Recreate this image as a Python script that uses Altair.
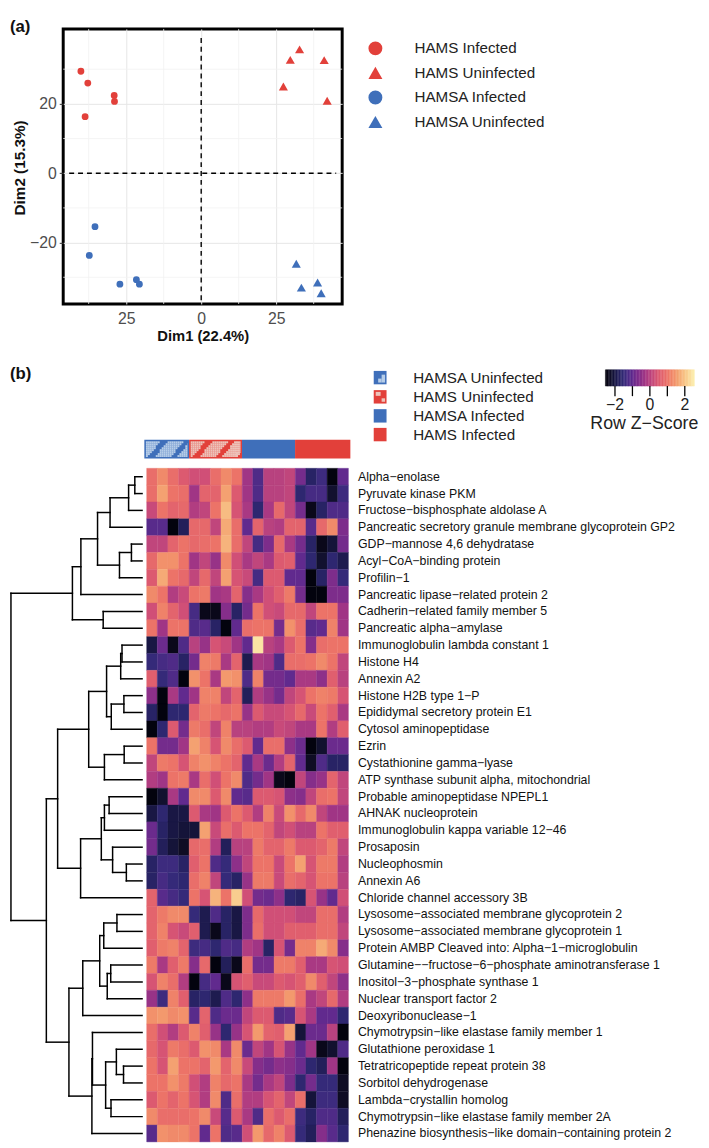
import altair as alt
import pandas as pd
import numpy as np

FONT = "Liberation Sans"
RED, BLUE = "#e2403a", "#3f6fba"
LRED, LBLUE = "#edc3ba", "#b6cde8"

# ---------- panel (a) ----------
groups = ["HAMS Infected", "HAMS Uninfected", "HAMSA Infected", "HAMSA Uninfected"]
hams_inf_x = [-40.1, -37.8, -29.0, -28.9, -38.7]
hams_inf_y = [29.4, 26.0, 22.4, 20.7, 16.3]
hams_uni_x = [32.8, 29.7, 41.0, 27.4, 42.0]
hams_uni_y = [35.7, 32.7, 32.6, 25.0, 20.9]
hamsa_inf_x = [-35.4, -37.3, -21.6, -20.6, -27.1]
hamsa_inf_y = [-15.4, -23.7, -30.7, -32.0, -32.0]
hamsa_uni_x = [31.7, 38.8, 33.4, 40.0]
hamsa_uni_y = [-26.1, -31.5, -33.0, -34.6]
x_ticks = [-25, 0, 25]
y_ticks = [-20, 0, 20]
x_minor = [-37.5, -12.5, 12.5, 37.5]
y_minor = [-30, -10, 10, 30]

pts = pd.DataFrame(
    [(a, b, groups[0]) for a, b in zip(hams_inf_x, hams_inf_y)]
    + [(a, b, groups[1]) for a, b in zip(hams_uni_x, hams_uni_y)]
    + [(a, b, groups[2]) for a, b in zip(hamsa_inf_x, hamsa_inf_y)]
    + [(a, b, groups[3]) for a, b in zip(hamsa_uni_x, hamsa_uni_y)],
    columns=["x", "y", "group"],
)
marker_area = {groups[0]: 48, groups[1]: 85, groups[2]: 48, groups[3]: 85}
pts["area"] = pts["group"].map(marker_area)

sx = alt.Scale(domain=[-46, 47], nice=False, zero=False)
sy = alt.Scale(domain=[-37.7, 41.6], nice=False, zero=False)

axis_x = alt.Axis(values=x_ticks, labelExpr="format(abs(datum.value),'d')", grid=True, gridColor="#e6e6e6",
                  gridWidth=1, domain=False, ticks=False, labelFont=FONT, labelFontSize=16, labelColor="#4d4d4d",
                  labelPadding=7, title="Dim1 (22.4%)", titleFont=FONT, titleFontSize=15, titleFontWeight="bold",
                  titleColor="#111", titlePadding=2)
axis_y = alt.Axis(values=y_ticks, grid=True, gridColor="#e6e6e6", gridWidth=1, domain=False, tickColor="#333",
                  tickSize=4, labelFont=FONT, labelFontSize=16, labelColor="#4d4d4d", labelPadding=3,
                  title=None)

base_grid = alt.Chart(pd.DataFrame({"x": x_minor})).mark_rule(color="#f1f1f1", strokeWidth=0.8).encode(
    x=alt.X("x:Q", scale=sx, axis=axis_x), )
base_grid2 = alt.Chart(pd.DataFrame({"y": y_minor})).mark_rule(color="#f1f1f1", strokeWidth=0.8).encode(
    y=alt.Y("y:Q", scale=sy, axis=axis_y), )

hline = alt.Chart(pd.DataFrame({"y": [0], "a": [-44], "b": [45]})).mark_rule(
    color="black", strokeWidth=1.4, strokeDash=[5, 4]).encode(
    y=alt.Y("y:Q", scale=sy), x=alt.X("a:Q", scale=sx), x2="b:Q")
vline = alt.Chart(pd.DataFrame({"x": [0], "a": [39], "b": [-37]})).mark_rule(
    color="black", strokeWidth=1.4, strokeDash=[5, 4]).encode(
    x=alt.X("x:Q", scale=sx), y=alt.Y("a:Q", scale=sy), y2="b:Q")

leg = alt.Legend(orient="none", legendX=309, legendY=12, symbolSize=200, labelFont=FONT, labelFontSize=15.4,
                 labelColor="#222", labelOffset=32, rowPadding=7.9, padding=0, symbolStrokeWidth=0)
points = alt.Chart(pts).mark_point(filled=True, opacity=1, strokeWidth=0).encode(
    x=alt.X("x:Q", scale=sx),
    y=alt.Y("y:Q", scale=sy),
    color=alt.Color("group:N", title=None, legend=leg,
                    scale=alt.Scale(domain=groups, range=[RED, RED, BLUE, BLUE])),
    shape=alt.Shape("group:N", title=None, legend=leg,
                    scale=alt.Scale(domain=groups, range=["circle", "triangle-up", "circle", "triangle-up"])),
    size=alt.Size("area:Q", legend=None, scale=None),
)
tag_a = alt.Chart(pd.DataFrame({"t": ["(a)"]})).mark_text(
    font=FONT, fontSize=17, fontWeight="bold", align="left", baseline="middle", color="#111").encode(
    x=alt.value(-54), y=alt.value(-2), text="t:N")
dim2 = alt.Chart(pd.DataFrame({"t": ["Dim2 (15.3%)"]})).mark_text(
    font=FONT, fontSize=15.5, fontWeight="bold", align="center", baseline="middle", color="#111", angle=270).encode(
    x=alt.value(-44), y=alt.value(141), text="t:N")

scatter = alt.layer(base_grid, base_grid2, hline, vline, points, tag_a, dim2).properties(
    width=283, height=279, view=alt.ViewBackground(stroke="black", strokeWidth=3))

# ---------- panel (b) ----------
X0 = 62    # page x of the lower view, aligned with the scatter view
Y0 = 352   # page y of the top of the lower view
H = 1146 - Y0
W = 709 - X0

proteins = [
    "Alpha−enolase", "Pyruvate kinase PKM", "Fructose−bisphosphate aldolase A",
    "Pancreatic secretory granule membrane glycoprotein GP2", "GDP−mannose 4,6 dehydratase",
    "Acyl−CoA−binding protein", "Profilin−1", "Pancreatic lipase−related protein 2",
    "Cadherin−related family member 5", "Pancreatic alpha−amylase", "Immunoglobulin lambda constant 1",
    "Histone H4", "Annexin A2", "Histone H2B type 1−P", "Epididymal secretory protein E1",
    "Cytosol aminopeptidase", "Ezrin", "Cystathionine gamma−lyase", "ATP synthase subunit alpha, mitochondrial",
    "Probable aminopeptidase NPEPL1", "AHNAK nucleoprotein", "Immunoglobulin kappa variable 12−46", "Prosaposin",
    "Nucleophosmin", "Annexin A6", "Chloride channel accessory 3B", "Lysosome−associated membrane glycoprotein 2",
    "Lysosome−associated membrane glycoprotein 1", "Protein AMBP Cleaved into: Alpha−1−microglobulin",
    "Glutamine−−fructose−6−phosphate aminotransferase 1", "Inositol−3−phosphate synthase 1",
    "Nuclear transport factor 2", "Deoxyribonuclease−1", "Chymotrypsin−like elastase family member 1",
    "Glutathione peroxidase 1", "Tetratricopeptide repeat protein 38", "Sorbitol dehydrogenase",
    "Lambda−crystallin homolog", "Chymotrypsin−like elastase family member 2A",
    "Phenazine biosynthesis−like domain−containing protein 2",
]

z_rows = [
    [.9,1.3,.9,.5,.3,.3,.9,1.3,1,-.3,-1.2,0,0,.1,-.8,-1.7,-1.4,-2.5,-1],
    [.9,1.6,1,.9,-.3,.7,.7,1.6,.5,-.3,-1.2,0,0,.1,-1.6,-1.3,-1.3,-2.2,-1.4],
    [.2,1,.7,.8,-.1,.1,1,1.9,.4,-.2,-1.6,-.2,.8,.1,-.8,-2.4,-1.7,-1.2,-1.2],
    [-1.1,-1.1,-2.5,-1.8,.8,.8,.1,1.7,.9,-1,.7,0,-.1,.7,.7,-1.1,.8,1.3,-.7],
    [.1,.1,.7,1,.8,.9,1,1.8,.9,.1,-1.3,-.7,.8,-.2,-.8,-1.7,-2.4,-2.1,-.8],
    [.8,1.4,1.4,1,-.3,.1,-.4,1.3,.3,-.2,.1,-.2,.5,.6,-1,-1.6,-2.2,-1.6,-1.9],
    [.5,1.7,1,.8,.1,.8,.1,1.6,.4,.2,-1.3,.5,.5,-1,-1,-2.5,-1.7,-.7,-1.5],
    [1.3,1,-.1,.2,1,1.1,-.3,-.2,.7,-.6,-.2,.3,.6,1.1,-.8,-2.5,-2.5,-.7,-.7],
    [.3,1.2,.7,.3,-1.3,-2.4,-2.4,-.6,-1.7,-.8,1,.3,.2,.8,.8,.1,1,1,-.3],
    [1,-.3,1,1,-1.2,-1.1,-1.7,-2.5,-1,.9,1,1,-.8,1.4,.9,-1.1,-1,1.2,-.3],
    [-2,-.9,-2.4,-1.2,0,-.4,.4,.2,-.3,-1,2.4,0,-.2,.5,1,-.6,.9,1,1],
    [-1.5,-1.3,-1.2,-1.7,-.8,1.2,1.1,-.2,.7,-1.9,-.2,-.3,-1.2,.9,.9,1,1.3,1,.1],
    [.6,-1.5,-1.2,-2.5,1.4,1,-.2,1.5,1.4,-1.2,1.2,-.8,-.8,-1,-.2,-.2,-.5,.6,0],
    [-.5,-2.5,-.2,-1,-.3,1.2,1.2,.1,.7,-1.8,-.1,-.4,-.8,.1,.4,1,1.2,1.1,.4],
    [-1.7,-2.5,-1.6,-1.6,.7,1.1,1,.8,1,-.4,.5,.2,.2,.4,.8,.2,1,.6,-.2],
    [-2.5,-1.6,.5,-.8,1.1,.9,.1,1.2,0,0,-.1,-.1,.2,.1,-.2,-.2,1,-.1,.6],
    [1,-.8,-.8,-.3,1.6,1.2,.4,1.3,.9,.5,-1,.9,.9,-.5,-.9,-2.5,-2.2,-.9,-.9],
    [.1,1.1,1,.4,1.2,1.4,1.2,1,.7,-1,-.2,-.9,-.1,.7,-1,-2.3,-1.2,-1.7,-1.7],
    [-.1,-.3,1,1.1,-.2,.9,.3,1,1.3,-1.2,-.8,-.3,-2.4,-2.5,.1,-.6,-.4,.7,.1],
    [-2.5,-2.2,-.2,-1,1.3,1.3,.5,1.3,-1,-1.1,.5,.5,.4,-.5,-.6,.1,.9,1,.1],
    [-2,-1.6,-2,-2,.5,-.2,-.3,.5,1,.5,-.1,1.2,.2,1.4,.8,1.3,.1,-.3,-.3],
    [-.9,-1.7,-2,-2.1,-2.1,1.6,.2,.9,.5,1,1,.7,.1,.3,0,0,1,.6,.6],
    [-.8,-1.8,-2.1,-2.3,.8,.9,-.1,-1.8,0,0,1.1,.7,.7,1.1,.5,.5,.7,1.1,.1],
    [-1.7,-1.4,-1.4,-1.7,.6,1,-1.2,-1.5,-.5,.1,1,1,.2,1,1.6,.4,1.1,1.1,-.1],
    [-1.7,-1.3,-1.5,-1.6,.9,1.2,.1,-1.5,-1.7,-.4,1.1,1.1,.2,.9,.7,.4,1,1,0],
    [.7,-1.1,-1.3,-1.5,1,.4,1.8,1,2.1,.3,-.8,-.9,-.5,-1.6,-1.7,.4,-.4,-1,.3],
    [.7,1.1,1.3,1.3,-1.5,-1.9,-1.2,-1.7,-2,-.7,.8,.3,.3,.3,.1,.1,.9,.9,-.1],
    [.7,1.2,.4,.2,.6,-1.9,-2.4,-1.7,-2,-.7,.9,.3,.3,.6,.6,.6,.9,.9,.1],
    [.6,1.1,1.2,.7,-1.4,-1.3,-1.6,-1.2,-1.3,-.1,-.3,-1.7,.4,-.8,1.2,1.2,1.7,1.3,-.6],
    [1.1,-.2,.6,1.1,-.6,.8,-2.5,-1.8,-2.4,.9,-.8,-.8,1.1,1.1,.6,-.2,-.2,.4,.3],
    [.4,1.2,.9,-.1,-2.5,-1.3,-1,-2.4,.4,.6,.2,.2,.5,.4,.6,1.3,.6,.1,-.5],
    [-.4,-1.4,1.2,.6,-1.7,-1.6,-1.9,-1.2,-1.6,-.5,1.1,1.1,1.1,1.5,.9,-.2,.1,.8,-.1],
    [1.4,1.5,1.3,1.4,-1.1,.7,-1.2,-.9,-.9,.1,.5,.5,-1.2,-1.1,.4,-.2,-1,-1,-1.6],
    [.9,.3,-.1,.5,1.2,.6,-.4,-1.6,-.4,.4,1.5,.7,.6,1.6,-2.1,-.9,-.9,0,-2.5],
    [.8,.4,1.1,.9,.5,1.4,1.3,-.2,1.3,-.9,.1,-.3,.4,-.4,-1,-.3,-2.4,-2.2,-1.2],
    [1,.4,1.6,1,1,.7,1.5,.7,1.3,.2,-.6,-.8,-.5,-.6,-.9,-1.6,-1.8,-.3,-2.5],
    [1,1,1.4,1.1,.3,-.1,1.2,.8,1,-.2,-.8,-.2,.1,-.7,-1.6,-.8,-1.5,-1.5,-2.3],
    [.5,1,.7,1,.4,-.1,1.3,-1.2,.9,-.1,-.1,.4,.7,.1,.9,-2.1,-1.4,-1.4,-2.3],
    [1.3,.9,.9,.9,1,1.3,.2,-1.1,.5,-.2,-1.2,.9,.5,.9,-1.4,-1.7,-1.2,-1.2,-1.8],
    [-1.1,1.4,1.3,1.3,1,-1,1,-1.2,-1.1,.3,1.5,.8,1.2,.5,-1.5,-1.8,-.6,-1.1,-1.6],
]
z_stops = [-2.55, -2.04, -1.53, -1.02, -0.51, 0, 0.51, 1.02, 1.53, 2.04, 2.55]
z_colors = ["#000004", "#171540", "#322a78", "#5f2a8e", "#8c3089", "#b8427f",
            "#dd5b70", "#ec7468", "#f39b6e", "#f8c88c", "#fcf0b0"]
zscale = alt.Scale(domain=z_stops, range=z_colors)

# Dendrogram: (merge distance, child, child); integers are 1-based row numbers.
tree = (139.3,
    (74, (65, (47.3, (34, (14.3, (7.7, 1, 2), 3), 4), (24, (11.3, 5, 6), 7)), 8), (41.3, 9, 10)),
    (101.7,
        (89.7,
            (56.7, (37.7, (22.7, (21.3, 11, 12), 13), (32.7, (19.3, 14, 15), 16)), (40, (19, 17, 18), 19)),
            (65.3, (43.3, (40, (35, 20, 21), 22), (31.3, 23, (16.7, 24, 25))), 26)),
        (77.7,
            (63, (45, (40.7, (26.7, 27, 28), 29), (37, (33.3, 30, 31), 32)), 33),
            (53.3, (52.7, 34, (38.7, (27.3, 35, (19.7, 36, 37)), (33, 38, 39))), 40)),
    ),
)

# scales: every lower-panel layer has its own x / y mapped into the shared view
page_x = alt.Scale(domain=[8, 709], range=[8 - X0, 709 - X0], nice=False, zero=False)
page_y = alt.Scale(domain=[Y0, Y0 + H], range=[0, H], nice=False, zero=False)
col_x = alt.Scale(domain=[0, 19], range=[146.7 - X0, 351.3 - X0], nice=False, zero=False)
row_y = alt.Scale(domain=[0, 40], range=[461.7 - Y0, 1145 - Y0], nice=False, zero=False)
dend_x = alt.Scale(domain=[0, 139.3], range=[142 - X0, 9 - X0], nice=False, zero=False)
bar_x = alt.Scale(domain=[-2.55, 2.55], range=[612 - X0, 702.3 - X0], nice=False, zero=False)

cells = pd.DataFrame([
    {"c0": c, "c1": c + 1, "r0": r, "r1": r + 1, "z": v, "protein": proteins[r]}
    for r, row in enumerate(z_rows) for c, v in enumerate(row)
])
heat = alt.Chart(cells).mark_rect(strokeWidth=0.4).encode(
    x=alt.X("c0:Q", scale=col_x, axis=None), x2="c1:Q",
    y=alt.Y("r0:Q", scale=row_y, axis=None), y2="r1:Q",
    color=alt.Color("z:Q", scale=zscale, legend=None),
    stroke=alt.Stroke("z:Q", scale=zscale, legend=None),
)

labels = alt.Chart(pd.DataFrame({"t": proteins, "r": [i + 0.5 for i in range(40)], "x": [361] * 40})).mark_text(
    font=FONT, fontSize=12.5, align="left", baseline="middle", color="#111").encode(
    x=alt.X("x:Q", scale=page_x, axis=None),
    y=alt.Y("r:Q", scale=row_y, axis=None),
    text="t:N",
)

segs = []
def walk(n):
    if isinstance(n, int):
        return 0.0, n - 0.5
    d, a, b = n
    da, ya = walk(a)
    db, yb = walk(b)
    segs.append((da, ya, d, ya))
    segs.append((db, yb, d, yb))
    segs.append((d, ya, d, yb))
    return d, (ya + yb) / 2
walk(tree)
dend = alt.Chart(pd.DataFrame(segs, columns=["x0", "y0", "x1", "y1"])).mark_rule(
    color="black", strokeWidth=1.5, strokeCap="square").encode(
    x=alt.X("x0:Q", scale=dend_x, axis=None), x2="x1:Q",
    y=alt.Y("y0:Q", scale=row_y, axis=None), y2="y1:Q",
)

# group annotation bar (page coordinates)
bar_x0 = [144.3, 189.7, 243.4, 297.2]
bar_x1 = [189.7, 243.4, 297.2, 353.3]
bar_fill = [BLUE, RED, BLUE, RED]
bar_top, bar_bot = 432.7, 451.7
rect_rows = [dict(x0=a, x1=b, y0=bar_top, y1=bar_bot, c=f) for a, b, f in zip(bar_x0, bar_x1, bar_fill)]

# diagonal hatching of the two uninfected groups
hatch_w, hatch_period = 2.0, 23.0
for g, light in ((0, LBLUE), (1, LRED)):
    xs = np.arange(bar_x0[g] + 1.6, bar_x1[g] - 1.6, hatch_w)
    ys = np.arange(bar_top + 1.6, bar_bot - 1.5, hatch_w)
    for xv in xs:
        for yv in ys:
            if ((xv + (yv - bar_top) * 0.8 - bar_x0[g]) % hatch_period) < 16:
                rect_rows.append(dict(x0=float(xv), x1=float(min(xv + hatch_w, bar_x1[g] - 1.5)),
                                      y0=float(yv), y1=float(min(yv + hatch_w, bar_bot - 1.5)), c=light))

# legend swatches of panel b
leg_names = ["HAMSA Uninfected", "HAMS Uninfected", "HAMSA Infected", "HAMS Infected"]
leg_y = [369.7, 389.2, 408.5, 427.5]
leg_fill = [BLUE, RED, BLUE, RED]
for yv, f in zip(leg_y, leg_fill):
    rect_rows.append(dict(x0=377, x1=390, y0=yv - 6.8, y1=yv + 6.8, c=f))
rect_rows += [
    dict(x0=385, x1=388.5, y0=leg_y[0] - 3, y1=leg_y[0] + 5, c=LBLUE),
    dict(x0=381.5, x1=385, y0=leg_y[0] + 1, y1=leg_y[0] + 5, c=LBLUE),
    dict(x0=379, x1=384, y0=leg_y[1] - 5, y1=leg_y[1] - 1, c=LRED),
    dict(x0=385, x1=388.5, y0=leg_y[1] + 1.5, y1=leg_y[1] + 5, c=LRED),
]
rects = alt.Chart(pd.DataFrame(rect_rows)).mark_rect().encode(
    x=alt.X("x0:Q", scale=page_x, axis=None), x2="x1:Q",
    y=alt.Y("y0:Q", scale=page_y, axis=None), y2="y1:Q",
    fill=alt.Fill("c:N", scale=None),
)

texts = pd.DataFrame({"t": leg_names, "x": [417] * 4, "y": leg_y})
leg_text = alt.Chart(texts).mark_text(font=FONT, fontSize=15.4, align="left", baseline="middle", color="#222").encode(
    x=alt.X("x:Q", scale=page_x, axis=None), y=alt.Y("y:Q", scale=page_y, axis=None), text="t:N")

tag_b = alt.Chart(pd.DataFrame({"t": ["(b)"], "x": [8], "y": [366]})).mark_text(
    font=FONT, fontSize=17, fontWeight="bold", align="left", baseline="middle", color="#111").encode(
    x=alt.X("x:Q", scale=page_x, axis=None), y=alt.Y("y:Q", scale=page_y, axis=None), text="t:N")

# colour key
key_edges = np.linspace(-2.55, 2.55, 61)
key = pd.DataFrame({"a": key_edges[:-1], "b": key_edges[1:], "z": (key_edges[:-1] + key_edges[1:]) / 2,
                    "y0": [361.7] * 60, "y1": [378.3] * 60})
key_rect = alt.Chart(key).mark_rect(strokeWidth=0.4).encode(
    x=alt.X("a:Q", scale=bar_x, axis=None), x2="b:Q",
    y=alt.Y("y0:Q", scale=page_y, axis=None), y2="y1:Q",
    color=alt.Color("z:Q", scale=zscale, legend=None),
    stroke=alt.Stroke("z:Q", scale=zscale, legend=None),
)
key_ticks_z = [-2, -1, 0, 1, 2]
key_ticks = alt.Chart(pd.DataFrame({"z": key_ticks_z, "a": [378.3] * 5, "b": [388.5] * 5})).mark_rule(
    color="black", strokeWidth=1.3).encode(
    x=alt.X("z:Q", scale=bar_x, axis=None),
    y=alt.Y("a:Q", scale=page_y, axis=None), y2="b:Q")
key_labels = alt.Chart(pd.DataFrame({"z": [-2, 0, 2], "t": ["−2", "0", "2"], "y": [398] * 3})).mark_text(
    font=FONT, fontSize=16, align="center", baseline="middle", color="#222").encode(
    x=alt.X("z:Q", scale=bar_x, axis=None),
    y=alt.Y("y:Q", scale=page_y, axis=None), text="t:N")
key_title = alt.Chart(pd.DataFrame({"t": ["Row Z−Score"], "x": [651.5], "y": [417]})).mark_text(
    font=FONT, fontSize=18, align="center", baseline="middle", color="#222").encode(
    x=alt.X("x:Q", scale=page_x, axis=None), y=alt.Y("y:Q", scale=page_y, axis=None), text="t:N")

lower = alt.layer(dend, heat, labels, rects, leg_text, tag_b, key_rect, key_ticks, key_labels, key_title).resolve_scale(
    x="independent", y="independent", color="independent", stroke="independent", fill="independent",
).properties(width=W, height=H)

chart = alt.vconcat(scatter, lower, spacing=57, bounds="flush").resolve_scale(
    color="independent", shape="independent", size="independent").properties(padding=0).configure_view(stroke=None)

chart.save("out.html", embed_options={"renderer": "svg", "actions": False})
